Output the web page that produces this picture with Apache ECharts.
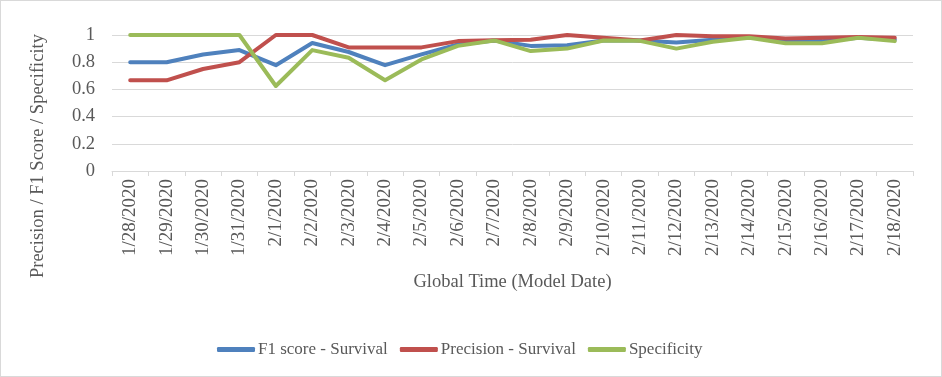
<!DOCTYPE html>
<html>
<head>
<meta charset="utf-8">
<script src="https://cdn.jsdelivr.net/npm/echarts@6/dist/echarts.min.js"></script>
<style>
  html, body { margin: 0; padding: 0; background: #fff; }
  .echart-main {
    width: 942px;
    height: 377px;
    box-sizing: border-box;
    border: 1px solid #d9d9d9;
  }
</style>
</head>
<body>
<div id="main" class="echart-main"></div>
<script>
var dates = [
  "1/28/2020", "1/29/2020", "1/30/2020", "1/31/2020", "2/1/2020", "2/2/2020",
  "2/3/2020", "2/4/2020", "2/5/2020", "2/6/2020", "2/7/2020", "2/8/2020",
  "2/9/2020", "2/10/2020", "2/11/2020", "2/12/2020", "2/13/2020", "2/14/2020",
  "2/15/2020", "2/16/2020", "2/17/2020", "2/18/2020"
];
var f1Survival = [0.8, 0.8, 0.857, 0.889, 0.778, 0.941, 0.875, 0.778, 0.857, 0.93, 0.96,
  0.92, 0.925, 0.96, 0.96, 0.945, 0.965, 0.985, 0.95, 0.955, 0.98, 0.965];
var precisionSurvival = [0.667, 0.667, 0.75, 0.8, 1, 1, 0.909, 0.909, 0.909, 0.955, 0.962,
  0.965, 1, 0.98, 0.96, 1, 0.99, 0.99, 0.975, 0.98, 0.985, 0.98];
var specificity = [1, 1, 1, 1, 0.625, 0.889, 0.833, 0.667, 0.82, 0.92, 0.96,
  0.882, 0.9, 0.96, 0.957, 0.9, 0.95, 0.98, 0.94, 0.94, 0.98, 0.955];
var yTicks = { min: 0, max: 1, interval: 0.2 };

var font = "Liberation Serif";
var grey = "#595959";

var myChart = echarts.init(document.getElementById("main"));

function lineSeries(name, data, color) {
  return {
    name: name,
    type: "line",
    data: data,
    symbol: "none",
    lineStyle: { width: 4, color: color, cap: "round", join: "round" },
    itemStyle: { color: color },
  };
}

var option = {
  animation: false,
  textStyle: { fontFamily: font },
  grid: { left: 111, right: 28, top: 34, bottom: 205 },
  xAxis: {
    type: "category",
    data: dates,
    boundaryGap: true,
    name: "Global Time (Model Date)",
    nameLocation: "middle",
    nameGap: 102,
    nameTextStyle: { fontFamily: font, fontSize: 18.5, color: grey },
    axisLine: { lineStyle: { color: "#d9d9d9", width: 1 } },
    axisTick: { show: true, interval: 0, length: 5, lineStyle: { color: "#d9d9d9" } },
    axisLabel: { interval: 0, rotate: 90, margin: 8, fontSize: 19, color: grey, fontFamily: font },
  },
  yAxis: {
    type: "value",
    min: yTicks.min,
    max: yTicks.max,
    interval: yTicks.interval,
    axisLine: { show: false },
    axisTick: { show: false },
    axisLabel: { margin: 17, fontSize: 18.5, color: grey, fontFamily: font },
    splitLine: { lineStyle: { color: "#d9d9d9", width: 1 } },
  },
  legend: {
    bottom: 13,
    left: 211,
    icon: "roundRect",
    itemWidth: 38,
    itemHeight: 5,
    itemGap: 12,
    textStyle: { fontFamily: font, fontSize: 17, color: grey, padding: [0, 0, 0, -2] },
    data: ["F1 score - Survival", "Precision - Survival", "Specificity"],
  },
  graphic: [
    {
      type: "text",
      left: 28,
      top: 33,
      rotation: Math.PI / 2,
      style: {
        text: "Precision / F1 Score / Specificity",
        font: "18.5px " + font,
        fill: grey,
      },
    },
  ],
  series: [
    lineSeries("F1 score - Survival", f1Survival, "#4f81bd"),
    lineSeries("Precision - Survival", precisionSurvival, "#c0504d"),
    lineSeries("Specificity", specificity, "#9bbb59"),
  ],
};

option && myChart.setOption(option);
</script>
</body>
</html>
